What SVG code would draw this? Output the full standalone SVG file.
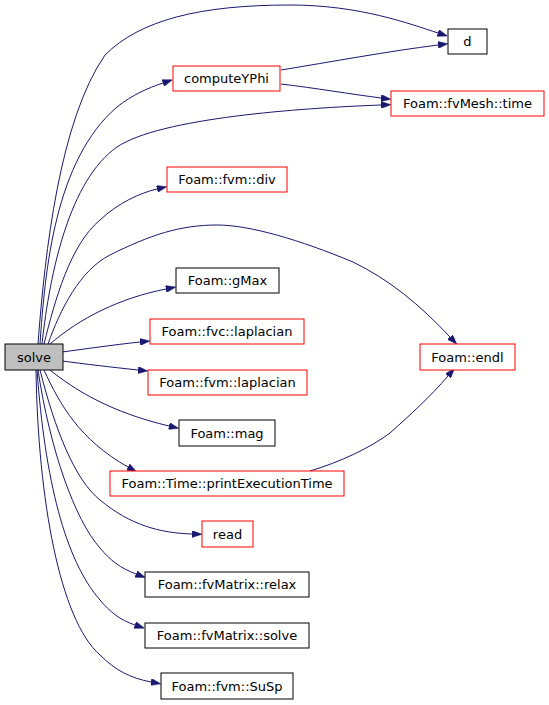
<svg xmlns="http://www.w3.org/2000/svg" width="549" height="705" viewBox="0 0 549 705">
<style>
.n rect{fill:#ffffff;stroke-width:1}
.r rect{stroke:#ff0000}
.b rect{stroke:#000000}
.n text{font-family:"DejaVu Sans",sans-serif;font-size:13px;text-anchor:middle;fill:#000000}
.e path{fill:none;stroke:#191970;stroke-width:1;marker-end:url(#ah)}
</style>
<defs>
<marker id="ah" viewBox="0 0 10 7" refX="0" refY="3.5" markerWidth="10" markerHeight="7" markerUnits="userSpaceOnUse" orient="auto">
<path d="M0,0 L10,3.5 L0,7 z" fill="#191970" stroke="#191970" stroke-width="0.5"/>
</marker>
</defs>
<rect width="549" height="705" fill="#ffffff"/>
<g id="edges" class="e">
<path d="M38,344 C45,250 60,120 105,55 C140,20 200,5 290,5 C360,5 410,24 438,33"/>
<path d="M40,344 C45,270 55,160 117,107 C132,95 148,88 163,83"/>
<path d="M42,344 C50,270 70,180 117,147 C160,118 300,108 381,105"/>
<path d="M281,70 C330,62 390,51 438,45"/>
<path d="M281,84 C315,88 350,94 381,98"/>
<path d="M44,344 C55,300 70,245 100,220 C118,203 140,193 157,189"/>
<path d="M48,344 C60,310 80,270 110,255 C150,235 180,225 217,225 C250,225 300,240 353,262 C390,280 420,305 450,337"/>
<path d="M50,344 C80,318 120,298 166,289"/>
<path d="M62,352 C85,349 112,345 140,342"/>
<path d="M62,361 C85,364 110,367 138,370"/>
<path d="M50,370 C75,390 110,412 169,426"/>
<path d="M44,370 C60,405 80,440 128,467"/>
<path d="M40,370 C55,430 75,480 100,500 C130,525 160,533 192,534"/>
<path d="M38,370 C50,450 75,520 100,548 C110,560 120,568 136,574"/>
<path d="M37,370 C45,480 65,560 100,600 C110,612 120,620 135,625"/>
<path d="M36,370 C38,500 60,620 100,655 C115,670 130,678 151,682"/>
<path d="M310,471 C340,462 370,448 390,433 C410,415 430,397 448,376"/>
</g>
<g id="solve" class="n b"><rect x="5" y="344" width="58" height="26" style="fill:#bfbfbf"/><text x="34" y="361.5">solve</text></g>
<g id="d" class="n b"><rect x="448" y="29" width="39" height="25"/><text x="467.5" y="46">d</text></g>
<g id="computeYPhi" class="n r"><rect x="173" y="66" width="107" height="25"/><text x="226.5" y="83">computeYPhi</text></g>
<g id="fvMesh_time" class="n r"><rect x="391" y="91" width="153" height="25"/><text x="467.5" y="108">Foam::fvMesh::time</text></g>
<g id="fvm_div" class="n r"><rect x="167" y="167" width="120" height="25"/><text x="227" y="184">Foam::fvm::div</text></g>
<g id="gMax" class="n b"><rect x="176" y="268" width="103" height="25"/><text x="227.5" y="285">Foam::gMax</text></g>
<g id="fvc_laplacian" class="n r"><rect x="150" y="319" width="154" height="25"/><text x="227" y="336">Foam::fvc::laplacian</text></g>
<g id="fvm_laplacian" class="n r"><rect x="148" y="370" width="159" height="25"/><text x="227.5" y="387">Foam::fvm::laplacian</text></g>
<g id="mag" class="n b"><rect x="179" y="420" width="96" height="26"/><text x="227" y="437.5">Foam::mag</text></g>
<g id="printExecutionTime" class="n r"><rect x="110" y="471" width="234" height="25"/><text x="227" y="488">Foam::Time::printExecutionTime</text></g>
<g id="endl" class="n r"><rect x="420" y="344" width="95" height="26"/><text x="467.5" y="361.5">Foam::endl</text></g>
<g id="read" class="n r"><rect x="202" y="521" width="51" height="26"/><text x="227.5" y="538.5">read</text></g>
<g id="relax" class="n b"><rect x="145" y="572" width="164" height="25"/><text x="227" y="589">Foam::fvMatrix::relax</text></g>
<g id="fvMatrix_solve" class="n b"><rect x="145" y="623" width="164" height="25"/><text x="227" y="640">Foam::fvMatrix::solve</text></g>
<g id="SuSp" class="n b"><rect x="161" y="673" width="132" height="26"/><text x="227" y="690.5">Foam::fvm::SuSp</text></g>
</svg>
